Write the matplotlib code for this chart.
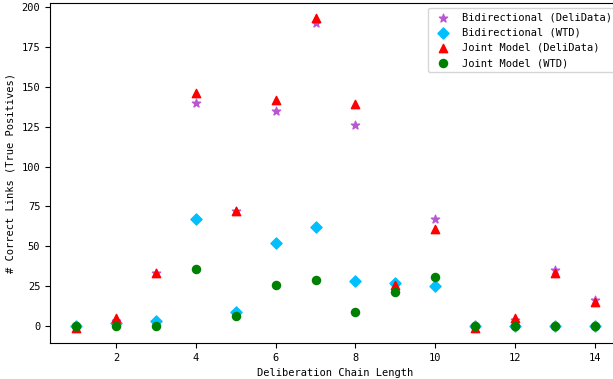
import matplotlib
matplotlib.use("Agg")
import matplotlib.pyplot as plt

plt.rcParams["font.family"] = "DejaVu Sans Mono"
plt.rcParams["font.size"] = 7.5

chain_len = [1, 2, 3, 4, 5, 6, 7, 8, 9, 10, 11, 12, 13, 14]
bidir_deli = [0, 3, 33, 140, 72, 135, 190, 126, 25, 67, 0, 4, 35, 16]
bidir_wtd = [0, 2, 3, 67, 9, 52, 62, 28, 27, 25, 0, 0, 0, 0]
joint_deli = [-1, 5, 33, 146, 72, 142, 193, 139, 26, 61, -1, 5, 33, 15]
joint_wtd = [0, 0, 0, 36, 6, 26, 29, 9, 21, 31, 0, 0, 0, 0]

fig = plt.figure(figsize=(6.13, 3.79), dpi=100)
# the original image was cropped on the right, so the axes run past the edge
ax = fig.add_axes([50 / 613, 36 / 379, 571 / 613, 340 / 379])

ax.scatter(chain_len, bidir_deli, marker="*", s=38, c="mediumorchid", label="Bidirectional (DeliData)")
ax.scatter(chain_len, bidir_wtd, marker="D", s=32, c="deepskyblue", label="Bidirectional (WTD)")
ax.scatter(chain_len, joint_deli, marker="^", s=36, c="red", label="Joint Model (DeliData)")
ax.scatter(chain_len, joint_wtd, marker="o", s=34, c="green", label="Joint Model (WTD)")

ax.set_xlabel("Deliberation Chain Length")
ax.set_ylabel("# Correct Links (True Positives)")
ax.legend(loc="upper right", fontsize=7.5)

fig.savefig("out.png", dpi=100)
